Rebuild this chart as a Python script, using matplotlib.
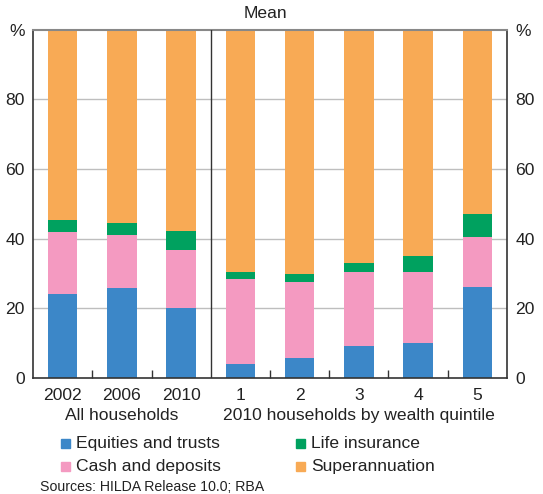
import matplotlib
matplotlib.use("Agg")
import matplotlib.pyplot as plt
from matplotlib.patches import Rectangle
import numpy as np

plt.rcParams['font.family'] = ['Liberation Sans', 'DejaVu Sans']

categories = ["2002", "2006", "2010", "1", "2", "3", "4", "5"]
equities = [24.2, 25.9, 20.1, 4.0, 5.8, 9.2, 10.1, 26.2]
cash = [17.8, 15.3, 16.7, 24.5, 21.8, 21.3, 20.4, 14.4]
life = [3.5, 3.4, 5.5, 2.0, 2.3, 2.6, 4.6, 6.6]
superann = [54.5, 55.4, 57.7, 69.5, 70.1, 66.9, 64.9, 52.8]
series = [("Equities and trusts", equities, "#3C87C8"),
          ("Cash and deposits", cash, "#F49AC1"),
          ("Life insurance", life, "#00A15F"),
          ("Superannuation", superann, "#F8AA55")]
yticks = [0, 20, 40, 60, 80]
group_labels = ["All households", "2010 households by wealth quintile"]

fig = plt.figure(figsize=(5.43, 4.94), dpi=100)
ax = fig.add_axes([33/543, 1-378/494, (507-33)/543, (378-29.7)/494])

x = np.arange(len(categories))
bottom = np.zeros(len(categories))
for name, vals, col in series:
    ax.bar(x, vals, width=0.5, bottom=bottom, color=col, zorder=2)
    bottom += np.array(vals)

ax.set_xlim(-0.5, 7.5)
ax.set_ylim(0, 100)
fs = 12.6
for y in yticks[1:]:
    ax.axhline(y, color="#BEBEBE", lw=1, zorder=1)
ax.axvline(2.5, color="#333333", lw=1, zorder=3)

ax.set_yticks(yticks + [100])
ax.set_yticklabels([str(v) for v in yticks] + ["%"])
ax.tick_params(axis="y", which="both", length=0, labelsize=fs, labelcolor="#222222",
               labelleft=True, labelright=True, pad=6)
ax.set_xticks(x)
ax.set_xticklabels(categories)
ax.set_xticks([0.5, 1.5, 3.5, 4.5, 5.5, 6.5], minor=True)
ax.tick_params(axis="x", which="major", length=0, labelsize=fs, labelcolor="#222222", pad=7)
ax.tick_params(axis="x", which="minor", length=6, direction="in", color="#333333", width=1)

for s in ["left", "right", "bottom"]:
    ax.spines[s].set_color("#333333")
    ax.spines[s].set_linewidth(1.2)
ax.spines["top"].set_color("#888888")
ax.spines["top"].set_linewidth(1.5)

# group labels
for xc, lab in zip([1, 5], group_labels):
    fig.text(ax.transData.transform((xc, 0))[0] / fig.bbox.width, 1-415/494, lab,
             ha="center", va="center", fontsize=fs, color="#222222")

fig.text(265/543, 1-14/494, "Mean", ha="center", va="center", fontsize=fs, color="#222222")

# legend
leg_pos = [(61, 443), (61, 466), (296, 443), (296, 466)]
for (name, vals, col), (lx, ly) in zip(series, leg_pos):
    fig.patches.append(Rectangle((lx/543, 1-(ly+4.5)/494), 8.5/543, 9/494,
                                 transform=fig.transFigure, color=col))
    fig.text((lx+15)/543, 1-ly/494, name, ha="left", va="center", fontsize=fs, color="#222222")

fig.text(40/543, 1-487/494, "Sources: HILDA Release 10.0; RBA", ha="left", va="center",
         fontsize=10.2, color="#222222")

fig.savefig("out.png", dpi=100)
